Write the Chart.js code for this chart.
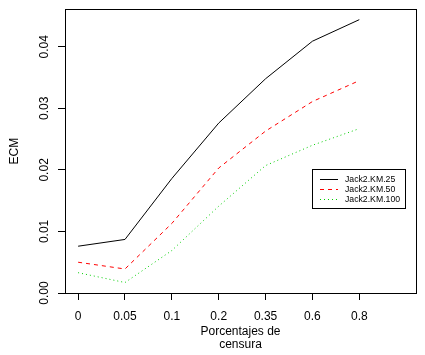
<!DOCTYPE html>
<html>
<head>
<meta charset="utf-8">
<script src="https://cdn.jsdelivr.net/npm/chart.js@4"></script>
<style>
  html, body { margin: 0; padding: 0; background: #fff; }
  #wrap { width: 425px; height: 355px; }
</style>
</head>
<body>
<div id="wrap"><canvas id="c" width="425" height="355"></canvas></div>
<script>
// censoring percentages (x categories)
const xLabels = ['0', '0.05', '0.1', '0.2', '0.35', '0.6', '0.8'];
const yTicks = [0, 0.01, 0.02, 0.03, 0.04];
const seriesNames = ['Jack2.KM.25', 'Jack2.KM.50', 'Jack2.KM.100'];
// ECM values
const km25 = [0.0076, 0.0087, 0.0186, 0.0276, 0.0348, 0.0409, 0.0444];
const km50 = [0.0050, 0.0039, 0.0113, 0.0203, 0.0263, 0.0311, 0.0345];
const km100 = [0.0033, 0.0017, 0.0069, 0.0141, 0.0207, 0.0240, 0.0267];

const FONT = 'Liberation Sans, Arial, sans-serif';
const pts = arr => arr.map((v, i) => ({ x: i, y: v }));

// box around plot + R-style legend
const boxAndLegend = {
  id: 'boxAndLegend',
  afterDraw(chart) {
    const { ctx, chartArea: a } = chart;
    ctx.save();
    ctx.strokeStyle = '#000';
    ctx.lineWidth = 1;
    ctx.setLineDash([]);
    ctx.strokeRect(Math.round(a.left) + 0.5, Math.round(a.top) + 0.5,
      Math.round(a.right - a.left), Math.round(a.bottom - a.top));

    // legend
    const lx = 312, ly = 169, lw = 93, lh = 39;
    ctx.fillStyle = '#fff';
    ctx.fillRect(lx, ly, lw, lh);
    ctx.strokeRect(lx + 0.5, ly + 0.5, lw, lh);
    ctx.font = '8.7px ' + FONT;
    ctx.textBaseline = 'middle';
    ctx.textAlign = 'left';
    chart.data.datasets.forEach((ds, i) => {
      const y = 178.5 + i * 10.2;
      ctx.strokeStyle = ds.borderColor;
      ctx.setLineDash(ds.borderDash || []);
      ctx.beginPath();
      ctx.moveTo(320, Math.round(y) + 0.5);
      ctx.lineTo(338, Math.round(y) + 0.5);
      ctx.stroke();
      ctx.fillStyle = '#000';
      ctx.fillText(ds.label, 345, y + 1);
    });
    ctx.restore();
  }
};

new Chart(document.getElementById('c'), {
  type: 'line',
  data: {
    datasets: [
      { label: seriesNames[0], data: pts(km25), borderColor: '#000000', borderWidth: 1 },
      { label: seriesNames[1], data: pts(km50), borderColor: '#FF0000', borderWidth: 1, borderDash: [4, 4] },
      { label: seriesNames[2], data: pts(km100), borderColor: '#00CD00', borderWidth: 1, borderDash: [1, 3] }
    ]
  },
  options: {
    responsive: false,
    animation: false,
    layout: { padding: { top: 5, right: 9, left: 0, bottom: 0 } },
    elements: { point: { radius: 0 }, line: { tension: 0 } },
    plugins: { legend: { display: false }, tooltip: { enabled: false } },
    scales: {
      x: {
        type: 'linear',
        min: -0.28,
        max: 7.21,
        afterBuildTicks: s => { s.ticks = xLabels.map((_, i) => ({ value: i })); },
        afterFit: s => { s.height = 62; },
        border: { display: false },
        grid: { drawOnChartArea: false, drawTicks: true, tickLength: 7, color: '#000', tickColor: '#000' },
        ticks: {
          color: '#000', font: { family: FONT, size: 12 }, padding: 9,
          maxRotation: 0, autoSkip: false,
          callback: v => xLabels[v]
        },
        title: {
          display: true, text: ['Porcentajes de', 'censura'], color: '#000',
          font: { family: FONT, size: 12, lineHeight: 1.1 }, padding: { top: 0, bottom: 3.4 }
        }
      },
      y: {
        min: 0,
        max: 0.0461,
        afterBuildTicks: s => { s.ticks = yTicks.map(v => ({ value: v })); },
        afterFit: s => { s.width = 65; },
        border: { display: false },
        grid: { drawOnChartArea: false, drawTicks: true, tickLength: 7, color: '#000', tickColor: '#000' },
        ticks: {
          color: '#000', font: { family: FONT, size: 12 }, padding: 2,
          minRotation: 90, maxRotation: 90, crossAlign: 'center',
          callback: v => v.toFixed(2)
        },
        title: {
          display: true, text: 'ECM', color: '#000',
          font: { family: FONT, size: 12 }, padding: { top: 7.8, bottom: 0 }
        }
      }
    }
  },
  plugins: [boxAndLegend]
});
</script>
</body>
</html>
